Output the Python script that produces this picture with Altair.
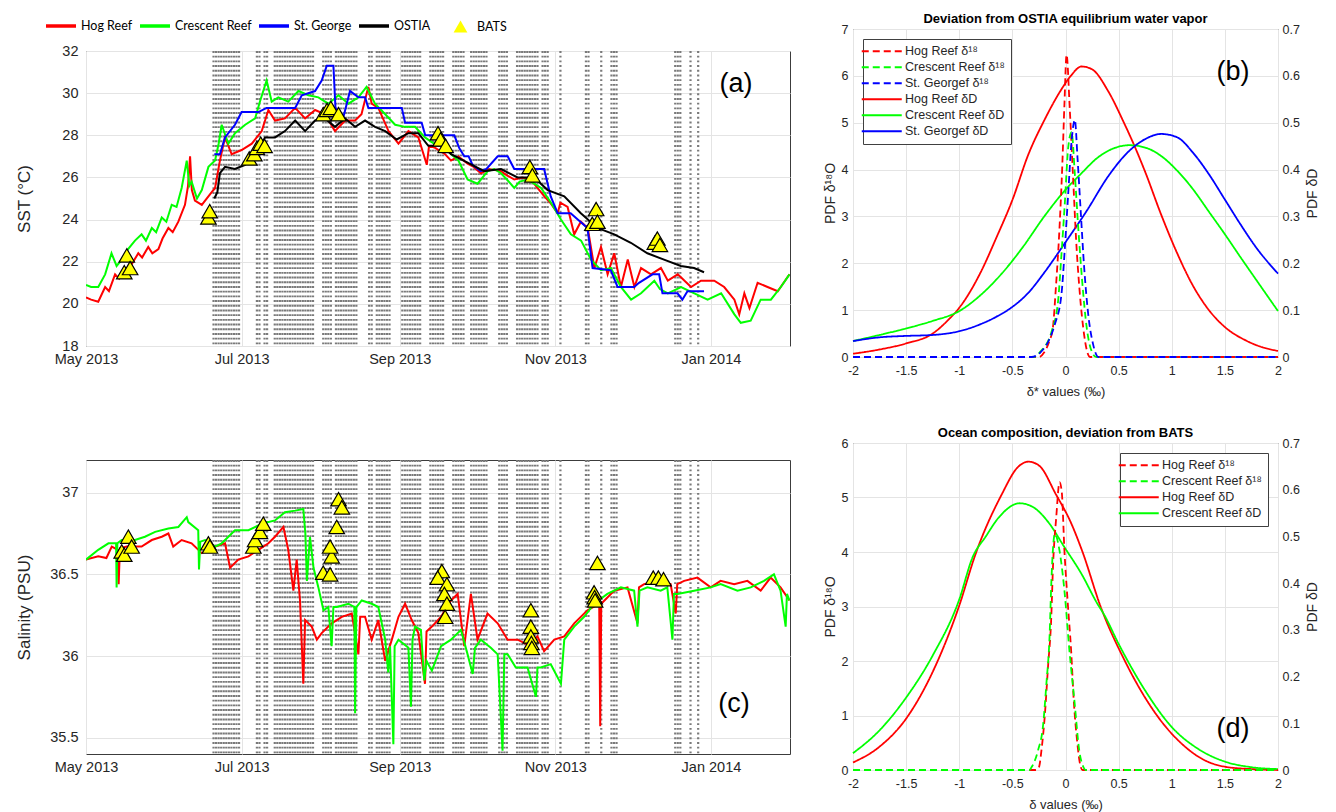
import altair as alt
import pandas as pd

FONT = "Liberation Sans"
LEGFONT = "Lato"
INK = "#262626"
RED, GREEN, BLUE, BLACK, YELLOW = "#ff0000", "#00ff00", "#0000ff", "#000000", "#ffff00"
T0 = pd.Timestamp("2013-05-01")


def ms(day):
    return int((T0 + pd.Timedelta(days=float(day))).value // 1_000_000)


# ---------------- time axis (days after 1 May 2013)
tick_days = [0, 61, 123, 184, 245]
domain_days = [0, 276]

# ---------------- SST (day, degC)
hog_sst = [(0, 20.3), (2, 20.2), (4.8, 20.1), (7.5, 20.8), (9, 20.6), (11.4, 21.4), (13, 21.2), (15.3, 21.6),
           (18, 21.9), (20.5, 22.4), (22, 22.2), (24.4, 22.7), (26, 22.4), (28.4, 22.6), (30, 23.1), (32.3, 23.6),
           (34, 23.4), (36.2, 23.9), (38.8, 24.7), (40, 25.6), (40.8, 27.0), (41.5, 25.4), (42.7, 24.9),
           (45.4, 24.7), (48.6, 25.2), (50.6, 25.5), (52.5, 26.8), (54.5, 27.9), (57.1, 27.1), (61, 27.3),
           (65, 27.6), (68.9, 28.2), (71.5, 29.2), (74.1, 28.7), (78, 28.8), (82, 29.3), (85.9, 28.8),
           (89.8, 29.2), (93.7, 29.0), (97.6, 28.2), (101.6, 28.7), (105.5, 28.7), (108, 29.0), (110.7, 30.3),
           (112, 29.5), (114.6, 29.3), (118.6, 28.2), (122.5, 27.6), (126.4, 28.2), (130.3, 27.9), (133.6, 26.6),
           (134.5, 27.5), (136.9, 27.4), (140.8, 27.1), (143.1, 26.8), (146, 27.0), (149.6, 26.65), (152, 26.5),
           (154.8, 26.2), (158, 26.4), (162.7, 26.3), (165, 26.1), (167.9, 25.9), (171, 26.0), (174.4, 25.9),
           (177, 25.5), (179.7, 25.1), (182, 24.8), (184.9, 24.3), (186, 24.8), (188.8, 24.6), (191.4, 23.3),
           (194, 23.9), (196.7, 23.6), (199.3, 21.7), (201.9, 22.7), (204.5, 21.4), (207.1, 22.4), (209.7, 20.8),
           (212.4, 22.1), (215, 20.8), (217.6, 21.7), (221.5, 21.4), (225.4, 21.7), (228.1, 21.1), (232, 21.4),
           (237.2, 20.8), (241.1, 21.1), (246.3, 21.1), (250.2, 20.8), (254.2, 20.2), (256.1, 19.5), (258.1, 20.5),
           (260.1, 19.8), (263.3, 21.0), (267.2, 20.8), (271.2, 20.6), (275.8, 21.4)]
crescent_sst = [(0, 20.9), (2, 20.8), (4.8, 20.8), (7.5, 21.4), (10, 22.4), (12, 21.8), (14, 22.1), (16.5, 22.6),
                (19.2, 23.0), (21.8, 23.3), (23.5, 23.0), (25.8, 23.6), (27.5, 23.4), (29.7, 24.1), (31.5, 23.9),
                (33.6, 24.7), (35.5, 24.6), (37.5, 25.5), (39.5, 26.8), (40.5, 25.6), (41.4, 25.8), (43.5, 25.0),
                (45.4, 25.4), (48, 26.5), (50.6, 26.8), (52, 27.6), (53.2, 28.5), (55.8, 27.6), (58.4, 28.1),
                (62.4, 28.5), (66.3, 28.8), (68.2, 29.6), (70.8, 30.6), (72.8, 29.6), (75.4, 29.8), (79.3, 29.6),
                (83.3, 30.1), (87.2, 29.9), (91.1, 29.8), (95, 29.5), (99, 29.9), (102.9, 29.5), (106.8, 29.8),
                (110, 30.3), (113.3, 29.5), (117.3, 29.0), (121.2, 28.5), (125.1, 28.4), (129, 28.4), (132.9, 27.9),
                (136.5, 27.6), (140, 27.9), (143.1, 27.1), (146, 26.8), (149.6, 25.9), (153.5, 25.7), (157.5, 26.3),
                (160, 26.4), (162.7, 26.2), (165, 25.9), (167.9, 25.5), (170, 25.8), (173.2, 25.9), (178.4, 25.5),
                (182.3, 24.8), (186.2, 24.0), (190.1, 23.3), (194.1, 23.0), (198, 22.1), (201.9, 21.6),
                (205.8, 21.7), (209.7, 20.8), (213.7, 20.2), (217.6, 20.5), (222.8, 21.1), (225, 20.7),
                (228.1, 20.5), (233.3, 20.8), (238.5, 20.5), (243.7, 20.2), (249, 20.5), (254.2, 19.5),
                (256.7, 19.1), (260.6, 19.2), (264.5, 20.2), (268.5, 20.2), (272.4, 20.8), (275.8, 21.4)]
stgeorge_sst = [(50.3, 27.1), (52.5, 27.1), (54.5, 27.9), (58.4, 28.5), (61, 29.1), (67.6, 29.1), (70.8, 29.3),
                (82, 29.3), (84.6, 29.9), (89.8, 30.1), (92.4, 30.6), (94.4, 31.3), (97, 31.3), (97.8, 29.3),
                (101, 28.9), (103.5, 30.1), (106.8, 29.8), (109.4, 29.8), (110.7, 29.3), (115.9, 29.3),
                (118.6, 29.3), (123.8, 29.3), (125.1, 28.6), (131.6, 28.6), (133, 28.0), (144.4, 28.0),
                (146.3, 27.4), (148.3, 27.0), (150, 27.0), (151.5, 26.6), (154.8, 26.3), (157, 26.4), (161.4, 27.0),
                (165.3, 27.0), (167.9, 26.4), (179.6, 26.4), (182.2, 25.1), (184.9, 24.3), (190, 24.3),
                (196.6, 23.6), (198.6, 21.7), (205.7, 21.6), (208.4, 20.8), (214.9, 20.8), (216.8, 21.0),
                (222.1, 21.4), (224.7, 21.4), (226, 20.5), (231.9, 20.5), (233.8, 20.2), (235.8, 20.6), (242.3, 20.6)]
ostia_sst = [(50.3, 25.0), (51.5, 25.3), (52.5, 26.2), (54.5, 26.5), (58.4, 26.4), (62.4, 26.6), (66.3, 27.1),
             (70.2, 27.9), (74.1, 27.9), (78, 28.2), (82, 28.7), (85.9, 28.2), (89.8, 28.7), (93.7, 28.8),
             (97.6, 28.4), (101.6, 28.8), (105.5, 28.4), (109.4, 28.7), (113.3, 28.4), (117.3, 28.2), (121.8, 27.8),
             (126.4, 28.1), (130.3, 28.1), (134.2, 27.5), (139.5, 27.5), (143.1, 27.1), (149.6, 26.7),
             (156.1, 26.3), (162.7, 26.4), (169.2, 26.0), (175.7, 26.0), (181, 25.4), (187.5, 25.1), (194, 24.3),
             (200.5, 23.6), (207.1, 23.3), (213.6, 22.9), (220.1, 22.4), (226.6, 22.1), (233.2, 21.8),
             (238.4, 21.7), (242.3, 21.5)]
bats_sst = [(15, 21.5), (16, 22.3), (17.3, 21.7), (48, 24.1), (48.5, 24.4), (64, 26.9), (66, 27.1), (67, 27.4),
            (68.5, 27.6), (70, 27.5), (93, 29.0), (94.5, 29.2), (96, 29.3), (99, 29.0), (138, 28.1), (139, 27.8),
            (141, 27.5), (174, 26.5), (175, 26.1), (198.5, 23.8), (200, 24.5), (200.5, 23.9), (223, 22.9),
            (224, 23.1), (225, 22.8)]

# ---------------- Salinity (day, PSU)
hog_sal = [(0, 36.59), (4.8, 36.61), (8, 36.6), (10.1, 36.67), (12.5, 36.65), (12.8, 36.44), (13.3, 36.66),
           (16, 36.67), (21.8, 36.67), (25.8, 36.71), (29.7, 36.73), (32.3, 36.75), (34.2, 36.67), (37.5, 36.71),
           (41.4, 36.69), (45.4, 36.63), (50.6, 36.67), (54.5, 36.69), (56.5, 36.54), (59.7, 36.59),
           (63.7, 36.61), (67.6, 36.65), (71.5, 36.69), (74.1, 36.73), (77.4, 36.79), (79.3, 36.65), (81.3, 36.4),
           (82.6, 36.59), (83.9, 36.34), (85.2, 35.83), (85.9, 36.22), (88.5, 36.18), (90.5, 36.1), (92.4, 36.14),
           (96.3, 36.2), (100.3, 36.24), (104.2, 36.26), (106.8, 36.01), (107.5, 36.24), (109.4, 36.24),
           (112, 36.1), (114.6, 36.22), (117.3, 35.97), (119.9, 36.1), (122.5, 36.24), (125.1, 36.32),
           (127.7, 36.22), (130.3, 36.14), (132.9, 35.83), (133.5, 36.15), (135.6, 36.18), (139.2, 36.24),
           (143.1, 36.34), (145.7, 36.38), (148.3, 36.06), (150.9, 36.38), (153.5, 36.1), (157.4, 36.26),
           (161.4, 36.2), (165.3, 36.1), (169.2, 36.1), (173.1, 36.07), (177, 36.12), (179.6, 36.03),
           (183.6, 36.1), (187.5, 36.12), (191.4, 36.2), (196.6, 36.28), (201.2, 36.32), (201.6, 35.57),
           (202, 36.32), (207.1, 36.4), (212.3, 36.42), (216.2, 36.2), (216.8, 36.42), (218.8, 36.44),
           (224, 36.46), (229.2, 36.44), (231.2, 36.26), (231.8, 36.44), (234.5, 36.46), (239.7, 36.48),
           (244.9, 36.42), (248.8, 36.46), (254.1, 36.44), (259.3, 36.46), (264.5, 36.4), (268.4, 36.48),
           (272.3, 36.42), (275.8, 36.34)]
crescent_sal = [(0, 36.59), (4.8, 36.65), (8.8, 36.69), (11.8, 36.69), (12, 36.42), (12.3, 36.69), (14, 36.71),
                (19.2, 36.71), (23.1, 36.73), (27.1, 36.76), (32.3, 36.78), (36.2, 36.79), (39.5, 36.85),
                (40.1, 36.82), (44, 36.77), (44.3, 36.53), (44.8, 36.7), (46.7, 36.71), (50.6, 36.67),
                (53.2, 36.69), (58.4, 36.77), (63.7, 36.77), (68.9, 36.81), (74.1, 36.83), (78, 36.88), (82, 36.89),
                (85.2, 36.9), (86, 36.75), (86.6, 36.46), (87.8, 36.73), (89.2, 36.54), (91.1, 36.42),
                (93.1, 36.28), (95, 36.3), (96.3, 36.06), (97, 36.3), (98.3, 36.3), (102.9, 36.32), (105.2, 36.3),
                (105.5, 35.65), (106, 36.3), (108.1, 36.34), (112, 36.32), (114.6, 36.3), (117.3, 36.1),
                (118.5, 35.9), (119.2, 36.06), (120.5, 35.46), (121, 36.06), (122.5, 36.1), (126.4, 36.05),
                (127.4, 35.69), (128, 36.1), (129, 36.18), (131.3, 36.16), (132.6, 35.85), (133.5, 35.97),
                (135.6, 35.91), (139.2, 36.06), (143.1, 36.1), (147, 36.16), (149.6, 36.01), (151.6, 35.89),
                (152.5, 36.05), (154.8, 36.1), (158.7, 36.05), (161.4, 36.01), (163.3, 35.42), (164, 36.01),
                (165.3, 36.01), (168.5, 35.93), (173.1, 35.93), (176.4, 35.75), (177, 35.93), (178.3, 35.93),
                (182.2, 35.95), (186.2, 35.83), (187.5, 36.1), (191.4, 36.18), (195.3, 36.24), (199.2, 36.32),
                (204.4, 36.38), (209.7, 36.42), (214.9, 36.4), (216.2, 36.18), (217, 36.4), (220.1, 36.42),
                (225.3, 36.4), (227.9, 36.42), (229.9, 36.1), (230.5, 36.38), (231.9, 36.38), (238.4, 36.4),
                (244.9, 36.42), (248.8, 36.44), (255.4, 36.4), (260.6, 36.42), (265.8, 36.46), (269.7, 36.5),
                (272.3, 36.4), (274.3, 36.18), (274.8, 36.38), (275.8, 36.34)]
bats_sal = [(14, 36.64), (15, 36.62), (16.6, 36.73), (17.9, 36.67), (48, 36.69), (48.6, 36.67), (65.6, 36.67),
            (66.3, 36.71), (68.2, 36.76), (69.5, 36.81), (93, 36.51), (95.7, 36.5), (96.3, 36.61), (95.7, 36.67),
            (98.3, 36.79), (99, 36.96), (100.3, 36.91), (139.5, 36.52), (137.9, 36.48), (141.5, 36.44),
            (140.5, 36.38), (141.5, 36.32), (140.8, 36.24), (174.4, 36.28), (174.4, 36.18), (174.4, 36.12),
            (174.6, 36.08), (174.8, 36.05), (200.5, 36.57), (199.2, 36.39), (199.4, 36.36), (199.6, 36.34),
            (222.4, 36.48), (224.4, 36.48), (226.4, 36.47)]

# ---------------- vertical dotted sampling lines (days)
sample_days = [50, 51, 52, 53, 54, 55, 56, 57, 58, 59, 60, 67, 68, 70, 71,
               74, 75, 76, 77, 78, 79, 80, 81, 82, 83, 84, 85, 86, 87, 88, 89,
               93, 94, 95, 96, 98, 99, 100, 101, 102, 103, 104, 105, 106, 111, 112,
               114, 115, 116, 117, 118, 119, 124, 125, 126, 127, 128, 129, 130, 131,
               135, 136, 137, 138, 139, 140, 144, 145, 146, 147, 148, 151, 152, 153, 154, 155, 156, 157,
               162, 163, 164, 165, 169, 170, 171, 172, 173, 174, 175, 176, 177, 179, 180, 181,
               186, 196, 197, 202, 206, 207, 208, 231, 232, 233, 237, 240]

# ---------------- panel (b): PDFs (x, pdf)
b_names = ["Hog Reef δ¹⁸", "Crescent Reef δ¹⁸", "St. Georgef δ¹⁸", "Hog Reef δD", "Crescent Reef δD", "St. Georgef δD"]
b_hog_18 = [(-2, 0), (-0.25, 0), (-0.2, 0.1), (-0.15, 0.35), (-0.12, 0.6), (-0.09, 1.5), (-0.06, 2.6),
            (-0.03, 4.1), (-0.01, 5.4), (0.01, 6.45), (0.04, 5.3), (0.07, 3.9), (0.1, 2.5), (0.135, 1.35),
            (0.175, 0.48), (0.2, 0.15), (0.23, 0), (2, 0)]
b_cres_18 = [(-2, 0), (-0.3, 0), (-0.23, 0.13), (-0.13, 0.55), (-0.07, 1.19), (-0.038, 2.19), (-0.006, 3.3),
             (0.025, 4.46), (0.057, 4.8), (0.088, 3.9), (0.12, 2.76), (0.157, 1.62), (0.2, 0.62), (0.245, 0.13),
             (0.29, 0), (2, 0)]
b_stg_18 = [(-2, 0), (-0.32, 0), (-0.24, 0.09), (-0.16, 0.34), (-0.1, 0.7), (-0.038, 1.34), (-0.006, 2.33),
            (0.025, 3.47), (0.057, 4.6), (0.088, 5.06), (0.113, 4.25), (0.145, 3.04), (0.176, 1.9), (0.214, 0.91),
            (0.26, 0.27), (0.31, 0), (2, 0)]
b_hog_D = [(-2, 0.007), (-1.75, 0.016), (-1.5, 0.029), (-1.25, 0.05), (-1.1, 0.08), (-1, 0.105), (-0.8, 0.18),
           (-0.65, 0.255), (-0.5, 0.335), (-0.35, 0.432), (-0.2, 0.505), (-0.05, 0.567), (0.05, 0.6),
           (0.15, 0.62), (0.25, 0.614), (0.4, 0.568), (0.55, 0.5), (0.65, 0.45), (0.75, 0.395), (0.9, 0.304),
           (1.05, 0.222), (1.2, 0.152), (1.35, 0.1), (1.5, 0.064), (1.7, 0.035), (1.85, 0.021), (2, 0.013)]
b_cres_D = [(-2, 0.034), (-1.75, 0.047), (-1.5, 0.061), (-1.25, 0.077), (-1.0, 0.098), (-0.8, 0.132),
            (-0.6, 0.178), (-0.4, 0.235), (-0.2, 0.3), (0, 0.357), (0.15, 0.392), (0.3, 0.425), (0.45, 0.445),
            (0.6, 0.452), (0.75, 0.447), (0.9, 0.429), (1.05, 0.398), (1.2, 0.358), (1.35, 0.31), (1.5, 0.262),
            (1.65, 0.212), (1.8, 0.163), (2, 0.098)]
b_stg_D = [(-2, 0.034), (-1.75, 0.042), (-1.5, 0.045), (-1.25, 0.047), (-1.0, 0.055), (-0.8, 0.07),
           (-0.65, 0.086), (-0.5, 0.107), (-0.35, 0.137), (-0.2, 0.18), (0, 0.245), (0.2, 0.312), (0.4, 0.385),
           (0.6, 0.44), (0.75, 0.465), (0.9, 0.476), (1.05, 0.469), (1.2, 0.436), (1.35, 0.39), (1.5, 0.336),
           (1.65, 0.282), (1.8, 0.232), (2, 0.178)]

# ---------------- panel (d)
d_names = ["Hog Reef δ¹⁸", "Crescent Reef δ¹⁸", "Hog Reef δD", "Crescent Reef δD"]
d_hog_18 = [(-2, 0), (-0.28, 0), (-0.25, 0.05), (-0.227, 0.35), (-0.196, 0.97), (-0.165, 1.88), (-0.134, 2.8),
            (-0.118, 3.72), (-0.087, 4.64), (-0.056, 5.28), (-0.035, 5.1), (-0.01, 4.02), (0.02, 3.1),
            (0.053, 2.19), (0.078, 1.27), (0.109, 0.54), (0.14, 0.08), (0.16, 0), (2, 0)]
d_cres_18 = [(-2, 0), (-0.34, 0), (-0.32, 0.05), (-0.26, 0.35), (-0.21, 0.84), (-0.18, 1.58), (-0.149, 2.5),
             (-0.134, 3.41), (-0.1, 4.33), (-0.056, 4.02), (-0.01, 3.29), (0.037, 2.19), (0.084, 1.27),
             (0.13, 0.35), (0.17, 0.05), (0.19, 0), (2, 0)]
d_hog_D = [(-2, 0.016), (-1.75, 0.05), (-1.5, 0.11), (-1.25, 0.21), (-1.0, 0.352), (-0.85, 0.46), (-0.6, 0.59),
           (-0.45, 0.648), (-0.35, 0.66), (-0.25, 0.652), (-0.09, 0.59), (0.05, 0.53), (0.16, 0.467),
           (0.33, 0.35), (0.56, 0.233), (0.86, 0.117), (1.1, 0.055), (1.3, 0.022), (1.5, 0.007), (1.75, 0.002),
           (2, 0.0)]
d_cres_D = [(-2, 0.036), (-1.75, 0.085), (-1.5, 0.155), (-1.25, 0.245), (-1.0, 0.365), (-0.875, 0.455),
            (-0.75, 0.5), (-0.63, 0.54), (-0.43, 0.571), (-0.3, 0.562), (-0.16, 0.53), (-0.01, 0.477),
            (0.15, 0.42), (0.3, 0.356), (0.36, 0.334), (0.5, 0.27), (0.75, 0.17), (1.0, 0.092), (1.25, 0.045),
            (1.5, 0.018), (1.75, 0.006), (2, 0.002)]


# ---------------- frames
def tdf(pairs, name):
    return pd.DataFrame({"t": [ms(d) for d, _ in pairs], "v": [v for _, v in pairs], "series": name})


def pdf_df(pairs, name):
    return pd.DataFrame({"x": [x for x, _ in pairs], "y": [y for _, y in pairs], "name": name})


sst_df = pd.concat([tdf(hog_sst, "Hog Reef"), tdf(crescent_sst, "Crescent Reef"),
                    tdf(stgeorge_sst, "St. George"), tdf(ostia_sst, "OSTIA")])
sal_df = pd.concat([tdf(hog_sal, "Hog Reef"), tdf(crescent_sal, "Crescent Reef")])
bats_a_df = tdf(bats_sst, "BATS").rename(columns={"series": "src"})
bats_c_df = tdf(bats_sal, "BATS").rename(columns={"series": "src"})
samp_df = pd.DataFrame({"t": [ms(d) for d in sample_days]})

b18_df = pd.concat([pdf_df(b_hog_18, b_names[0]), pdf_df(b_cres_18, b_names[1]), pdf_df(b_stg_18, b_names[2])])
bD_df = pd.concat([pdf_df(b_hog_D, b_names[3]), pdf_df(b_cres_D, b_names[4]), pdf_df(b_stg_D, b_names[5])])
d18_df = pd.concat([pdf_df(d_hog_18, d_names[0]), pdf_df(d_cres_18, d_names[1])])
dD_df = pd.concat([pdf_df(d_hog_D, d_names[2]), pdf_df(d_cres_D, d_names[3])])

# ---------------- shared encodings
W_L, H_A, H_C = 704, 295, 294
W_R, H_B, H_D = 425, 328, 327

X_TIME = alt.X("t:T", scale=alt.Scale(type="utc", domain=[ms(d) for d in domain_days]),
               axis=alt.Axis(values=[ms(d) for d in tick_days], labelExpr="utcFormat(datum.value, '%b %Y')",
                             title=None, labelFontSize=14.5, labelPadding=6, labelFlush=False, grid=True))

series_scale_a = alt.Scale(domain=["Hog Reef", "Crescent Reef", "St. George", "OSTIA"],
                           range=[RED, GREEN, BLUE, BLACK])
series_scale_c = alt.Scale(domain=["Hog Reef", "Crescent Reef"], range=[RED, GREEN])
bats_shape = alt.Scale(domain=["BATS"], range=["triangle-up"])

LEG_LINES = alt.Legend(orient="none", legendX=-36, legendY=-32, direction="horizontal", title=None,
                       gridAlign="none", symbolType="M-3,0H3", symbolSize=100, symbolStrokeWidth=3.5,
                       symbolOffset=4, labelOffset=13, labelFont=LEGFONT, labelFontSize=12.5, labelColor="black",
                       columnPadding=0, padding=0)
LEG_BATS = alt.Legend(orient="none", legendX=367, legendY=-32, title=None, symbolSize=190,
                      symbolFillColor=YELLOW, symbolStrokeColor=BLACK, symbolStrokeWidth=1.2,
                      labelFont=LEGFONT, labelFontSize=12.5, labelColor="black", labelOffset=9, padding=0)


def anchor(x, y):
    # invisible layout anchor fixing the outer extent of a panel group
    return alt.Chart(pd.DataFrame({"k": [0]})).mark_rule(opacity=0, strokeOpacity=0).encode(
        x=alt.value(x), x2=alt.value(x + 1), y=alt.value(y), y2=alt.value(y + 1))


def spacer(w, h):
    return alt.Chart(pd.DataFrame({"k": [0]})).mark_point(opacity=0).encode(
        x=alt.value(0), y=alt.value(0)).properties(width=w, height=h, view=alt.ViewBackground(strokeOpacity=0))


def rules():
    return alt.Chart(samp_df).mark_rule(color="#7a7a7a", strokeWidth=2.2, strokeDash=[1.9, 2.8]).encode(x=X_TIME)


def tri(df, y, legend):
    shape = alt.Shape("src:N", scale=bats_shape, legend=legend)
    return alt.Chart(df).mark_point(filled=True, fill=YELLOW, stroke=BLACK, strokeWidth=1.2, size=240,
                                    opacity=1).encode(x=X_TIME, y=y, shape=shape)


def panel_label(txt, x, y):
    return alt.Chart(pd.DataFrame({"lab": [txt]})).mark_text(fontSize=27, color="black").encode(
        x=alt.value(x), y=alt.value(y), text="lab:N")


# ---------------- panel (a)
Y_SST = alt.Y("v:Q", scale=alt.Scale(domain=[18, 32], nice=False, zero=False),
              axis=alt.Axis(values=list(range(18, 33, 2)), title="SST (°C)", titleFontSize=17, labelFontSize=14.5,
                            labelPadding=8, grid=True, titleX=-53, titleY=H_A / 2))
lines_a = alt.Chart(sst_df).mark_line(strokeWidth=2, clip=True).encode(
    x=X_TIME, y=Y_SST, color=alt.Color("series:N", scale=series_scale_a, legend=LEG_LINES))
panel_a = alt.layer(anchor(-73, 100), rules(), lines_a, tri(bats_a_df, Y_SST, LEG_BATS),
                    panel_label("(a)", 650, 33)).properties(width=W_L, height=H_A)

# ---------------- panel (c)
Y_SAL = alt.Y("v:Q", scale=alt.Scale(domain=[35.4, 37.2], nice=False, zero=False),
              axis=alt.Axis(values=[35.5, 36, 36.5, 37], format="~g", title="Salinity (PSU)", titleFontSize=17,
                            labelFontSize=14.5, labelPadding=8, grid=True, titleX=-53, titleY=H_C / 2))
lines_c = alt.Chart(sal_df).mark_line(strokeWidth=2, clip=True).encode(
    x=X_TIME, y=Y_SAL, color=alt.Color("series:N", scale=series_scale_c, legend=None))
panel_c = alt.layer(rules(), lines_c, tri(bats_c_df, Y_SAL, None), panel_label("(c)", 648, 244)).properties(
    width=W_L, height=H_C)


# ---------------- PDF panels
def X_PDF(title):
    return alt.X("x:Q", scale=alt.Scale(domain=[-2, 2], nice=False),
                 axis=alt.Axis(values=[-2, -1.5, -1, -0.5, 0, 0.5, 1, 1.5, 2], title=title, format="~g",
                               labelExpr="replace(datum.label, '−', '-')", labelFlush=False,
                               labelFontSize=12.5, titleFontSize=13, labelPadding=7, titlePadding=9, grid=True))


def pdf_legend(orient):
    return alt.Legend(title=None, orient=orient, offset=10, symbolType="M-4,0H4", symbolSize=100,
                      symbolStrokeWidth=2, symbolOffset=6.5, labelOffset=17, labelFontSize=12.5,
                      labelColor=INK, fillColor="white", strokeColor="#404040", padding=6, rowPadding=3)


def pdf_panel(df18, dfD, names, colors, ymax_left, title, xtitle, label, label_y, legend_orient, h, extra):
    cs = alt.Scale(domain=names, range=colors)
    ds = alt.Scale(domain=names, range=[[7, 4] if "¹⁸" in n else [1, 0] for n in names])
    leg = pdf_legend(legend_orient)
    solid = alt.Chart(dfD).mark_line(strokeWidth=1.8, interpolate="monotone").encode(
        x=X_PDF(xtitle),
        y=alt.Y("y:Q", scale=alt.Scale(domain=[0, 0.7], nice=False),
                axis=alt.Axis(orient="right", values=[0, 0.1, 0.2, 0.3, 0.4, 0.5, 0.6, 0.7], format="~g",
                              title="PDF δD", titleAngle=-90, titleBaseline="top", grid=False,
                              labelFontSize=12.5, titleFontSize=14, labelPadding=4, titlePadding=6)),
        color=alt.Color("name:N", scale=cs, legend=leg),
        strokeDash=alt.StrokeDash("name:N", scale=ds, legend=leg))
    dashed = alt.Chart(df18).mark_line(strokeWidth=1.8, interpolate="monotone").encode(
        x=X_PDF(xtitle),
        y=alt.Y("y:Q", scale=alt.Scale(domain=[0, ymax_left], nice=False),
                axis=alt.Axis(orient="left", values=list(range(0, ymax_left + 1)), title="PDF δ¹⁸O", grid=True,
                              labelFontSize=12.5, titleFontSize=14, labelPadding=5)),
        color=alt.Color("name:N", scale=cs, legend=leg),
        strokeDash=alt.StrokeDash("name:N", scale=ds, legend=leg))
    layers = extra + [solid, dashed, panel_label(label, 380, label_y)]
    return alt.layer(*layers).resolve_scale(y="independent").properties(
        width=W_R, height=h,
        title=alt.TitleParams(title, fontSize=13, fontWeight="bold", offset=-3, frame="group", anchor="middle"))


panel_b = pdf_panel(b18_df, bD_df, b_names, [RED, GREEN, BLUE, RED, GREEN, BLUE], 7,
                    "Deviation from OSTIA equilibrium water vapor", "δ* values (‰)", "(b)", 43, "top-left", H_B,
                    [anchor(-45, 100)])
panel_d = pdf_panel(d18_df, dD_df, d_names, [RED, GREEN, RED, GREEN], 6,
                    "Ocean composition, deviation from BATS", "δ values (‰)", "(d)", 286, "top-right", H_D, [])

# Column origins are aligned by the outer row; the hidden spacers (1 px and 7 px high) set the
# 22 px vertical offset between the left column (a, c) and the right column (b, d).
left = alt.vconcat(spacer(300, 1), panel_a, panel_c, spacing=114, bounds="flush").resolve_scale(
    color="independent", shape="independent")
right = alt.vconcat(spacer(300, 7), panel_b, panel_d, spacing=86, bounds="flush").resolve_scale(
    color="independent", strokeDash="independent")

chart = alt.hconcat(left, right, spacing=16).resolve_scale(
    color="independent", shape="independent", strokeDash="independent").properties(
    padding={"left": 12, "top": -67, "right": 0, "bottom": 0}
).configure(font=FONT).configure_view(stroke="#3c3c3c", strokeWidth=1).configure_axis(
    labelColor=INK, titleColor=INK, gridColor="#e4e4e4", gridWidth=1, domain=False, ticks=False,
    titleFontWeight="normal", labelFont=FONT, titleFont=FONT
).configure_title(font=FONT, color="black")

chart.save("out.html", embed_options={"renderer": "svg", "actions": False})
